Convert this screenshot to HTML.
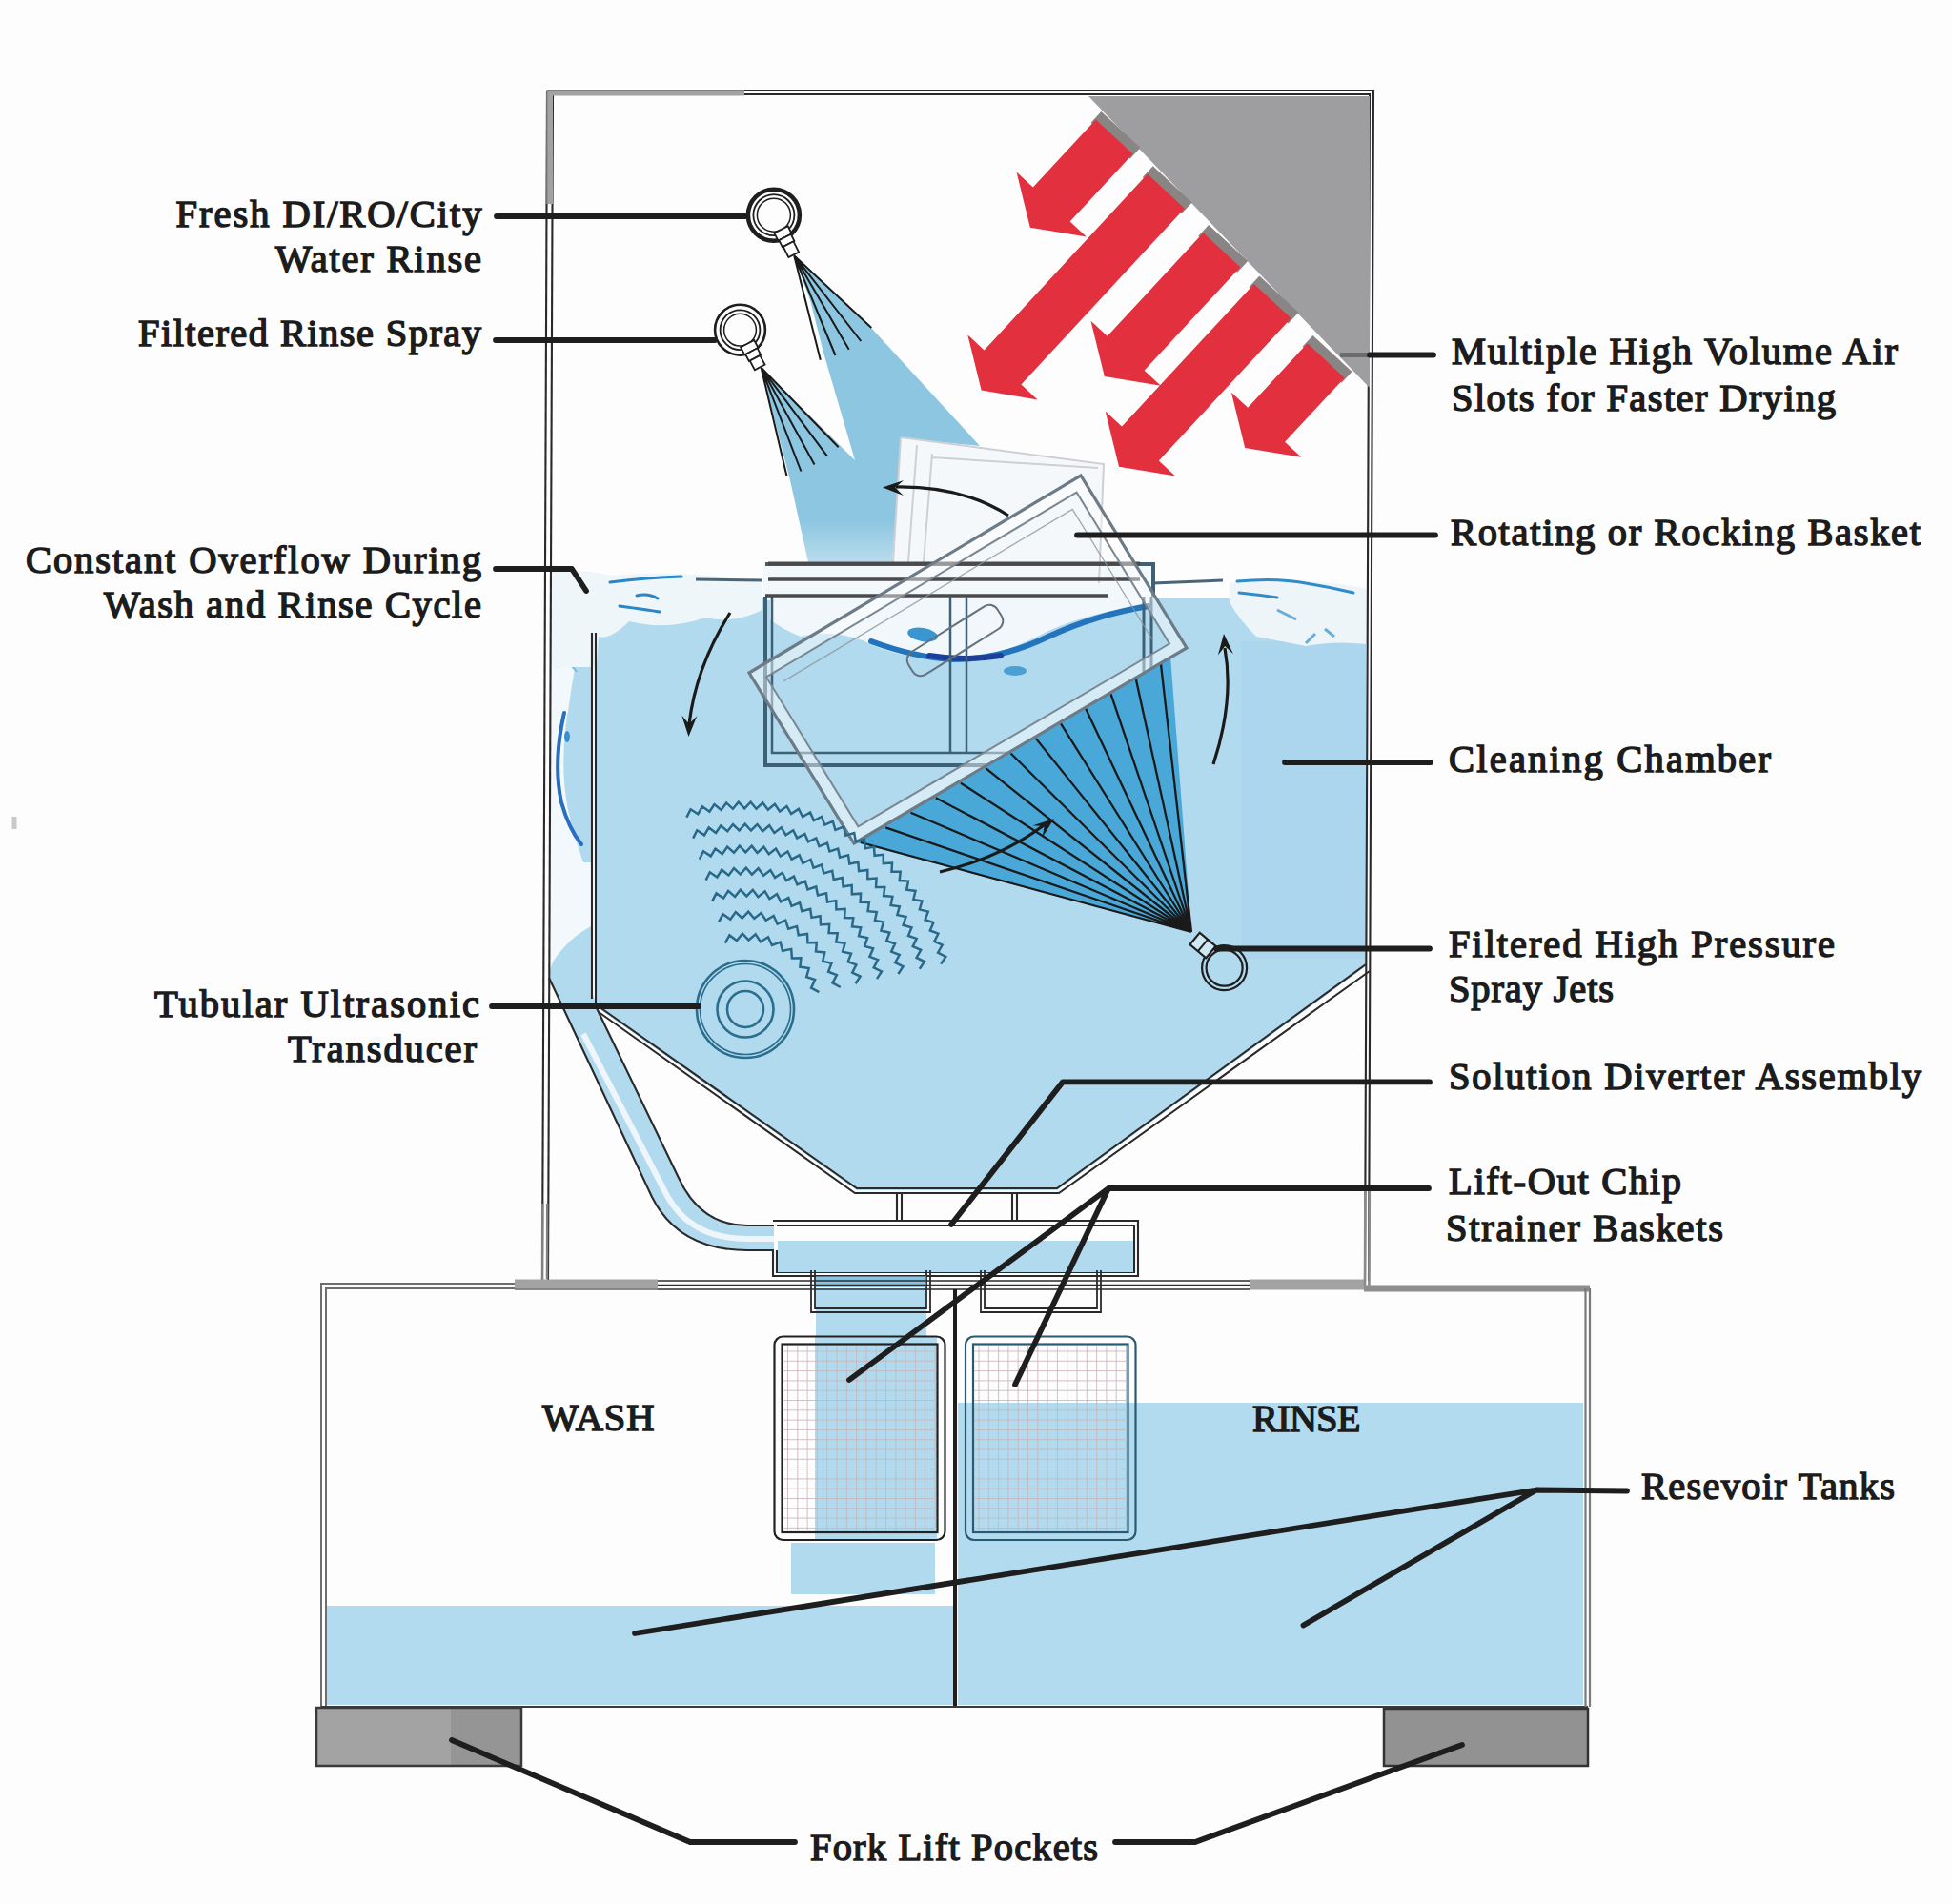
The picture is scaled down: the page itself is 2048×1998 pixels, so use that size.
<!DOCTYPE html>
<html><head><meta charset="utf-8">
<style>
html,body{margin:0;padding:0;background:#fdfdfd;}
svg{display:block;}
text{font-family:"Liberation Serif",serif;font-size:40.5px;fill:#1c1c1c;stroke:#1c1c1c;stroke-width:1.5px;}
</style></head>
<body>
<svg width="2048" height="1998" viewBox="0 0 2048 1998">
<rect x="0" y="0" width="2048" height="1998" fill="#fdfdfd"/>
<path d="M577,600 L620,600 L620,1050 L577,1030 Z" fill="#f2f8fb"/>
<path d="M620,655 L612,662 Q602,700 597,740 Q586,800 596,850 Q603,880 612,905 L620,905 Z" fill="#b2daee"/>
<path d="M620,972 Q602,982 592,994 Q580,1006 577,1018 L577,1030 L620,1050 Z" fill="#b2daee"/>
<path d="M576,1018 L621,1040 L628,1064 L576,1032 Z" fill="#b2daee"/>
<path d="M592,748 Q580,800 589,842 Q597,870 610,886" fill="none" stroke="#2a6fbf" stroke-width="4" stroke-linecap="round"/>
<ellipse cx="595" cy="773" rx="3" ry="6" fill="#3a8fd0"/>
<path d="M585,700 Q595,690 605,705 M590,640 Q600,660 612,650" fill="none" stroke="#7fb6da" stroke-width="2"/>
<path d="M576,1026 L684,1256 Q712,1312 784,1312 L812,1312 L812,1286 L784,1286 Q735,1286 712,1236 L626,1058 Z" fill="#b2daee"/>
<path d="M612,1085 L700,1255 Q725,1300 784,1300 L812,1300" fill="none" stroke="#eef6fb" stroke-width="6"/>
<path d="M625,628 L1433,628 L1433,1014 L1109,1249 L899,1249 L625,1056 Z" fill="#b2daee"/>
<rect x="1302" y="673" width="131" height="333" fill="#abd6ee"/>
<path d="M801,592 L1210,592 L1210,630 L801,630 Z" fill="#f3f8fb"/>
<path d="M577,600 Q610,596 640,604 Q700,598 760,606 L800,612 L800,640 Q770,655 740,648 Q700,662 660,652 Q640,672 628,668 L626,700 L577,700 Z" fill="#eef6fa"/>
<path d="M640,611 Q680,606 715,605 M650,636 Q680,640 692,642 M668,625 Q680,622 690,628" fill="none" stroke="#2a86c4" stroke-width="3" stroke-linecap="round"/>
<path d="M1290,612 Q1330,604 1370,610 Q1410,612 1434,618 L1434,676 Q1400,672 1370,678 Q1340,672 1318,668 Q1300,650 1290,632 Z" fill="#eef5f9"/>
<path d="M1298,610 Q1340,606 1370,612 Q1395,616 1420,622 M1300,622 Q1320,624 1340,627" fill="none" stroke="#2f8cc8" stroke-width="3" stroke-linecap="round"/>
<path d="M1340,640 L1360,650 M1390,660 L1400,668 M1370,675 L1380,665" fill="none" stroke="#6aaed6" stroke-width="3"/>
<path d="M730,608 L800,609 M1209,612 L1283,609" fill="none" stroke="#4a6478" stroke-width="3"/>
<path d="M808,628 L1205,628 L1205,636 Q1150,640 1100,662 Q1040,694 990,693 Q940,690 905,672 Q870,660 840,668 Q820,660 808,650 Z" fill="#f1f7fb"/>
<path d="M914,673 Q960,690 1000,692 Q1050,692 1100,668 Q1150,645 1205,636" fill="none" stroke="#2274bd" stroke-width="6" stroke-linecap="round"/>
<path d="M975,688 Q1010,694 1050,688" fill="none" stroke="#1d3f9a" stroke-width="6" stroke-linecap="round"/>
<ellipse cx="968" cy="666" rx="16" ry="7" fill="#3a95d0" transform="rotate(10 968 666)"/>
<ellipse cx="1065" cy="704" rx="12" ry="5" fill="#4a9fd4"/>
<defs><linearGradient id="sprayfade" x1="0" y1="0" x2="0" y2="1"><stop offset="0" stop-color="#8cc6e0"/><stop offset="0.86" stop-color="#8cc6e0"/><stop offset="1" stop-color="#b9dcec"/></linearGradient></defs>
<path d="M833,268 L914,344 L1028,468 L946,460 L936,590 L848,590 L829,504 L798.6,385.8 L897,483 L864,370 L850,315 Z" fill="url(#sprayfade)"/>
<path d="M945,459 L1158,487 L1153,612 L936,600 Z" fill="#f5f8fa"/>
<path d="M945,459 L1158,487 L1153,612 M945,459 L937,590 M962,467 L953,590 M978,476 L969,590 M978,480 L1152,491" fill="none" stroke="#cfcfd3" stroke-width="2"/>
<g fill="none" stroke="#3f6178" stroke-width="4"><path d="M803,626 L803,803 L1208,803"/><path d="M810,626 L810,790 L1200,790" stroke-width="2.5"/><path d="M803,592 L1210,592 L1210,626" /><path d="M806,591.5 L1196,591.5" stroke="#4a4a4c" stroke-width="4"/><path d="M806,608 L1196,608" stroke="#4a4a4c" stroke-width="3.5"/><path d="M803,625 L1163,625" stroke="#4a4a4c" stroke-width="3.5"/><path d="M997,626 L997,790 M1014,626 L1014,790" stroke-width="2.5"/><path d="M1208,626 L1208,803 M1200,626 L1200,790" stroke-width="3"/></g>
<path d="M1250,978 L898,884 L1228,688 Z" fill="#4aa8d9"/>
<path d="M1250,978 L903.0,884.0 M1250,978 L929.2,868.4 M1250,978 L955.5,852.8 M1250,978 L981.8,837.2 M1250,978 L1008.0,821.7 M1250,978 L1034.2,806.1 M1250,978 L1060.5,790.5 M1250,978 L1086.8,774.9 M1250,978 L1113.0,759.3 M1250,978 L1139.2,743.8 M1250,978 L1165.5,728.2 M1250,978 L1191.8,712.6 M1250,978 L1218.0,697.0" fill="none" stroke="#1a1a1a" stroke-width="2.3"/>
<path d="M786.0,706.0 1134.0,499.0 1245.0,680.0 896.0,885.0 Z M804.0,710.4 1129.6,516.7 1227.0,675.5 900.4,867.3 Z" fill="#ffffff" fill-opacity="0.45" fill-rule="evenodd"/>
<polygon points="786.0,706.0 1134.0,499.0 1245.0,680.0 896.0,885.0" fill="none" stroke="#6d7b86" stroke-width="3.2"/>
<polygon points="804.0,710.4 1129.6,516.7 1227.0,675.5 900.4,867.3" fill="none" stroke="#7a8790" stroke-width="2"/>
<path d="M822.0,714.9 L1125.2,534.5 L1209.0,671.0" fill="none" stroke="#8a969e" stroke-width="1.4" opacity="0.8"/>
<rect x="-55" y="-14" width="110" height="28" rx="10" transform="translate(1002,672) rotate(-32)" fill="none" stroke="#62727e" stroke-width="2"/>
<path d="M760.8,989.6 L765.4,981.4 L773.0,987.0 L779.0,979.7 L785.5,986.5 L792.7,980.3 L797.9,988.2 L806.0,983.3 L809.9,992.0 L818.7,988.6 L821.0,997.8 L830.2,995.9 L830.9,1005.4 L840.4,1005.2 L839.4,1014.6 L848.7,1016.0 L846.2,1025.1 L855.1,1028.1 L851.1,1036.6 L859.4,1041.1 M754.0,967.6 L758.5,959.3 L766.3,964.7 L771.8,957.1 L778.7,963.5 L785.2,956.7 L791.3,963.8 L798.6,958.0 L803.6,965.9 L811.7,961.0 L815.6,969.5 L824.2,965.7 L827.1,974.7 L836.1,972.0 L837.7,981.3 L847.0,979.9 L847.4,989.3 L856.8,989.1 L856.0,998.4 L865.3,999.4 L863.2,1008.6 L872.4,1010.9 L869.1,1019.7 L877.9,1023.1 L873.5,1031.4 L881.8,1036.0 M747.3,945.6 L751.5,937.4 L759.1,942.6 L764.1,934.9 L771.1,940.9 L776.9,933.7 L783.3,940.4 L789.8,933.8 L795.4,941.2 L802.6,935.3 L807.4,943.2 L815.1,938.1 L819.1,946.4 L827.3,942.1 L830.5,950.8 L839.1,947.3 L841.3,956.3 L850.2,953.8 L851.5,962.9 L860.6,961.3 L861.0,970.5 L870.2,969.8 L869.6,979.1 L878.8,979.3 L877.3,988.5 L886.5,989.7 L884.1,998.6 L893.0,1000.7 L889.7,1009.3 L898.4,1012.4 L894.2,1020.6 L902.6,1024.6 L897.6,1032.3 M740.6,923.6 L744.8,915.3 L752.4,920.5 L757.3,912.7 L764.5,918.5 L770.0,911.1 L776.7,917.5 L782.8,910.6 L788.9,917.6 L795.6,911.2 L801.1,918.7 L808.3,913.0 L813.1,920.9 L820.8,915.8 L824.9,924.1 L833.0,919.6 L836.4,928.3 L844.8,924.6 L847.4,933.4 L856.2,930.5 L858.0,939.5 L867.0,937.4 L868.0,946.5 L877.2,945.1 L877.4,954.4 L886.6,953.8 L886.1,963.0 L895.3,963.2 L894.0,972.3 L903.2,973.3 L901.0,982.3 L910.1,984.1 L907.2,992.9 L916.1,995.4 L912.4,1003.9 L921.1,1007.2 L916.7,1015.4 L925.0,1019.4 L920.0,1027.1 M733.9,901.6 L738.0,893.3 L745.7,898.4 L750.5,890.5 L757.8,896.2 L763.1,888.6 L770.0,894.8 L775.9,887.7 L782.3,894.4 L788.7,887.7 L794.5,894.9 L801.4,888.7 L806.7,896.3 L814.0,890.6 L818.8,898.6 L826.5,893.5 L830.6,901.7 L838.7,897.3 L842.2,905.8 L850.6,901.9 L853.5,910.7 L862.1,907.5 L864.3,916.5 L873.2,913.9 L874.7,923.0 L883.7,921.1 L884.6,930.3 L893.7,929.0 L893.9,938.3 L903.1,937.7 L902.6,946.9 L911.8,947.1 L910.6,956.2 L919.8,957.0 L917.9,966.1 L927.0,967.6 L924.4,976.5 L933.4,978.7 L930.2,987.3 L939.0,990.2 L935.1,998.6 L943.7,1002.0 L939.2,1010.1 L947.5,1014.2 L942.4,1022.0 M727.2,879.6 L731.3,871.3 L739.0,876.4 L743.7,868.4 L751.1,874.0 L756.3,866.3 L763.3,872.3 L769.0,865.0 L775.6,871.5 L781.7,864.6 L787.9,871.5 L794.5,865.0 L800.2,872.3 L807.2,866.2 L812.4,873.9 L819.8,868.3 L824.5,876.3 L832.2,871.2 L836.3,879.4 L844.4,874.9 L848.0,883.4 L856.3,879.4 L859.4,888.1 L868.0,884.6 L870.4,893.5 L879.2,890.6 L881.1,899.7 L890.0,897.4 L891.3,906.5 L900.4,904.8 L901.1,914.0 L910.3,912.9 L910.3,922.2 L919.6,921.6 L919.0,930.9 L928.3,931.0 L927.1,940.1 L936.4,940.8 L934.6,949.9 L943.8,951.2 L941.4,960.1 L950.5,962.0 L947.6,970.8 L956.5,973.3 L953.0,981.9 L961.7,984.9 L957.7,993.2 L966.2,996.9 L961.6,1004.9 L969.9,1009.1 L964.8,1016.8 M720.4,857.6 L724.6,849.3 L732.3,854.3 L736.9,846.3 L744.4,851.8 L749.5,844.0 L756.6,849.9 L762.1,842.5 L768.9,848.8 L774.8,841.7 L781.2,848.4 L787.6,841.7 L793.5,848.7 L800.3,842.4 L805.8,849.8 L812.9,843.8 L818.1,851.5 L825.5,846.0 L830.1,854.0 L837.9,848.9 L842.1,857.1 L850.1,852.5 L853.8,861.0 L862.1,856.9 L865.3,865.6 L873.8,861.9 L876.4,870.8 L885.1,867.6 L887.3,876.6 L896.2,874.0 L897.8,883.1 L906.8,881.0 L907.9,890.2 L917.0,888.6 L917.6,897.8 L926.8,896.8 L926.8,906.1 L936.0,905.6 L935.5,914.8 L944.7,914.8 L943.7,924.0 L952.9,924.6 L951.3,933.7 L960.5,934.9 L958.3,943.9 L967.4,945.5 L964.8,954.4 L973.8,956.6 L970.6,965.3 L979.4,968.0 L975.8,976.5 L984.4,979.7 L980.3,988.0 L988.7,991.7 L984.1,999.7 L992.3,1003.9 L987.2,1011.6" fill="none" stroke="#28698a" stroke-width="2.5" stroke-linejoin="miter"/>
<g fill="none" stroke="#2a6d8c" stroke-width="2.6"><circle cx="782" cy="1059" r="51"/><circle cx="782" cy="1059" r="47.5" stroke-width="1.6"/><circle cx="782" cy="1059" r="29.5"/><circle cx="782" cy="1059" r="19"/></g>
<path d="M766,643 Q730,700 723,760" fill="none" stroke="#1a1a1a" stroke-width="3.2"/><polygon points="722.5,773.0 715.3,750.7 723.0,759.8 731.3,751.3" fill="#1a1a1a"/>
<path d="M1058,541 Q1010,510 940,511" fill="none" stroke="#1a1a1a" stroke-width="3.2"/><polygon points="926.0,511.5 948.1,503.9 939.2,511.7 947.9,519.9" fill="#1a1a1a"/>
<path d="M1273,802 Q1295,735 1285,680" fill="none" stroke="#1a1a1a" stroke-width="3.2"/><polygon points="1284.0,665.0 1293.9,686.2 1285.2,678.1 1277.9,687.6" fill="#1a1a1a"/>
<path d="M986,915 Q1050,900 1095,866" fill="none" stroke="#1a1a1a" stroke-width="3.2"/><polygon points="1106.0,859.0 1093.6,878.8 1095.6,867.1 1083.7,866.2" fill="#1a1a1a"/>
<g fill="none" stroke="#2a2a2a" stroke-width="2.1"><path d="M574,95 L1441,95 L1436,1344"/><path d="M580,99 L1437,99 L1432,1344"/><path d="M574,95 L569,1344"/><path d="M580,99 L575,1344"/><path d="M621,664 L621,1048 M625,664 L625,1052"/><path d="M625,1054 L899,1247 L1109,1247 L1433,1012"/><path d="M628,1062 L897,1252 L1111,1252 L1437,1019"/><path d="M941,1252 L941,1281 M946,1252 L946,1281 M1062,1252 L1062,1281 M1067,1252 L1067,1281"/><path d="M576,1026 L684,1256 Q712,1312 784,1312 L812,1312"/><path d="M626,1058 L712,1236 Q735,1286 784,1286 L812,1286"/><path d="M811,1281 L1194,1281 L1194,1339 L811,1339 L811,1312"/><path d="M815,1286 L1190,1286 L1190,1335 L815,1335 L815,1312"/></g>
<path d="M577,214 L577,97.5 L781,97.5" stroke="#a2a2a2" stroke-width="6" fill="none"/>
<path d="M574,214 L574,95 L781,95" stroke="#8a8a8a" stroke-width="1.5" fill="none"/>
<path d="M569.2,1263 L569,1346 M574.2,1263 L574,1342" stroke="#808080" stroke-width="2.4" fill="none"/>
<rect x="816" y="1302" width="373" height="33" fill="#b2daee"/>
<rect x="342" y="1685" width="659" height="104" fill="#b3dbef"/>
<rect x="1005" y="1472" width="656" height="317" fill="#b3dbef"/>
<rect x="856" y="1352" width="116" height="52" fill="#b2daee"/>
<rect x="855" y="1402" width="128" height="214" fill="#b2daee"/>
<rect x="830" y="1619" width="151" height="54" fill="#b2daee"/>
<g fill="none" stroke="#2a2a2a" stroke-width="1.8"><path d="M851,1333 L851,1377 L976,1377 L976,1333 M855,1333 L855,1373 L972,1373 L972,1333"/><path d="M1029,1333 L1029,1377 L1155,1377 L1155,1333 M1033,1333 L1033,1373 L1151,1373 L1151,1333"/></g>
<rect x="856" y="1339" width="116" height="12" fill="#5aa9d6" opacity="0.7"/>
<rect x="812.5" y="1402.5" width="179.0" height="213.5" rx="9" fill="none" stroke="#222" stroke-width="2.2"/><rect x="820.5" y="1410.5" width="163.0" height="197.5" fill="none" stroke="#222" stroke-width="2.2"/><path d="M826.5,1412 L826.5,1606 M836.8,1412 L836.8,1606 M847.1,1412 L847.1,1606 M857.4,1412 L857.4,1606 M867.7,1412 L867.7,1606 M878.0,1412 L878.0,1606 M888.3,1412 L888.3,1606 M898.6,1412 L898.6,1606 M908.9,1412 L908.9,1606 M919.2,1412 L919.2,1606 M929.5,1412 L929.5,1606 M939.8,1412 L939.8,1606 M950.1,1412 L950.1,1606 M960.4,1412 L960.4,1606 M970.7,1412 L970.7,1606 M981.0,1412 L981.0,1606 M821.5,1418.0 L982.5,1418.0 M821.5,1428.3 L982.5,1428.3 M821.5,1438.6 L982.5,1438.6 M821.5,1448.9 L982.5,1448.9 M821.5,1459.2 L982.5,1459.2 M821.5,1469.5 L982.5,1469.5 M821.5,1479.8 L982.5,1479.8 M821.5,1490.1 L982.5,1490.1 M821.5,1500.4 L982.5,1500.4 M821.5,1510.7 L982.5,1510.7 M821.5,1521.0 L982.5,1521.0 M821.5,1531.3 L982.5,1531.3 M821.5,1541.6 L982.5,1541.6 M821.5,1551.9 L982.5,1551.9 M821.5,1562.2 L982.5,1562.2 M821.5,1572.5 L982.5,1572.5 M821.5,1582.8 L982.5,1582.8 M821.5,1593.1 L982.5,1593.1 M821.5,1603.4 L982.5,1603.4" fill="none" stroke="#c9b5ba" stroke-width="1" opacity="0.85"/>
<rect x="1013" y="1402.5" width="178.5" height="213.5" rx="9" fill="none" stroke="#2a5a72" stroke-width="2.2"/><rect x="1021" y="1410.5" width="162.5" height="197.5" fill="none" stroke="#2a5a72" stroke-width="2.2"/><path d="M1027.0,1412 L1027.0,1606 M1037.3,1412 L1037.3,1606 M1047.6,1412 L1047.6,1606 M1057.9,1412 L1057.9,1606 M1068.2,1412 L1068.2,1606 M1078.5,1412 L1078.5,1606 M1088.8,1412 L1088.8,1606 M1099.1,1412 L1099.1,1606 M1109.4,1412 L1109.4,1606 M1119.7,1412 L1119.7,1606 M1130.0,1412 L1130.0,1606 M1140.3,1412 L1140.3,1606 M1150.6,1412 L1150.6,1606 M1160.9,1412 L1160.9,1606 M1171.2,1412 L1171.2,1606 M1181.5,1412 L1181.5,1606 M1022,1418.0 L1182.5,1418.0 M1022,1428.3 L1182.5,1428.3 M1022,1438.6 L1182.5,1438.6 M1022,1448.9 L1182.5,1448.9 M1022,1459.2 L1182.5,1459.2 M1022,1469.5 L1182.5,1469.5 M1022,1479.8 L1182.5,1479.8 M1022,1490.1 L1182.5,1490.1 M1022,1500.4 L1182.5,1500.4 M1022,1510.7 L1182.5,1510.7 M1022,1521.0 L1182.5,1521.0 M1022,1531.3 L1182.5,1531.3 M1022,1541.6 L1182.5,1541.6 M1022,1551.9 L1182.5,1551.9 M1022,1562.2 L1182.5,1562.2 M1022,1572.5 L1182.5,1572.5 M1022,1582.8 L1182.5,1582.8 M1022,1593.1 L1182.5,1593.1 M1022,1603.4 L1182.5,1603.4" fill="none" stroke="#c9b5ba" stroke-width="1" opacity="0.85"/>
<g fill="none" stroke="#6e6e6e" stroke-width="2"><path d="M337,1791 L337,1347 L540,1347"/><path d="M342,1791 L342,1352 L540,1352"/></g>
<path d="M337,1791 L1666,1791" stroke="#3a3a3a" stroke-width="1.8"/>
<path d="M690,1344 L1311,1344 M690,1348.5 L1311,1348.5 M690,1353 L1311,1353" stroke="#2e2e2e" stroke-width="1.6"/>
<path d="M540,1348 L690,1348" stroke="#a3a3a3" stroke-width="11"/>
<path d="M540,1353 L690,1353" stroke="#777" stroke-width="1.5"/>
<path d="M1311,1348 L1431,1348" stroke="#a3a3a3" stroke-width="11"/>
<path d="M1432.4,1250 L1432,1350 M1436.8,1250 L1436.4,1350" stroke="#8a8a8a" stroke-width="2.6"/>
<path d="M1431,1352 L1668,1352" stroke="#8e8e8e" stroke-width="7"/>
<path d="M1663.5,1352 L1663.5,1791 M1668,1352 L1668,1791" stroke="#7a7a7a" stroke-width="2.2"/>
<line x1="1002" y1="1353" x2="1002" y2="1790" stroke="#1e1e1e" stroke-width="4"/>
<rect x="332" y="1792" width="142" height="61" fill="#a3a3a3"/>
<rect x="473" y="1792" width="74" height="61" fill="#959595"/>
<path d="M332,1792 L547,1792 L547,1853 L332,1853 Z" fill="none" stroke="#3a3a3a" stroke-width="2.5"/>
<rect x="1452" y="1793" width="214" height="60" fill="#929292" stroke="#333" stroke-width="2.5"/>
<rect x="12.5" y="857" width="5" height="13" fill="#c9c9c9"/>
<polygon points="1142,101 1437,101 1437,407" fill="#9e9ea0"/>
<polygon points="1185.6,166.8 1196.5,155.1 1155.4,117.0 1144.6,128.7" fill="#8a8585"/>
<polygon points="1239.8,224.1 1250.7,212.4 1209.7,174.3 1198.8,186.0" fill="#8a8585"/>
<polygon points="1298.3,285.7 1309.2,274.0 1268.1,235.9 1257.2,247.7" fill="#8a8585"/>
<polygon points="1351.6,339.4 1362.5,327.7 1321.4,289.6 1310.5,301.3" fill="#8a8585"/>
<polygon points="1407.6,401.8 1418.5,390.1 1377.4,352.0 1366.6,363.7" fill="#8a8585"/>
<polygon points="1080.8,238.7 1139.9,248.5 1122.6,232.5 1188.6,161.4 1149.7,125.4 1083.8,196.5 1066.5,180.5" fill="#e3303e"/>
<polygon points="1029.6,409.6 1088.7,419.4 1071.4,403.4 1242.8,218.7 1204.0,182.6 1032.6,367.4 1015.3,351.4" fill="#e3303e"/>
<polygon points="1158.8,395.0 1217.9,404.8 1200.6,388.8 1301.3,280.3 1262.4,244.3 1161.8,352.8 1144.5,336.8" fill="#e3303e"/>
<polygon points="1174.0,489.7 1233.1,499.5 1215.8,483.5 1354.6,334.0 1315.7,297.9 1177.0,447.5 1159.7,431.5" fill="#e3303e"/>
<polygon points="1306.2,470.0 1365.3,479.8 1348.0,463.8 1410.6,396.4 1371.7,360.3 1309.2,427.8 1291.9,411.8" fill="#e3303e"/>
<path d="M1406,372.5 L1437,372.5" stroke="#6c6a6c" stroke-width="5"/>
<g fill="none" stroke="#1e1e1e"><circle cx="811.9" cy="225.7" r="27" stroke-width="4.5"/><circle cx="811.9" cy="225.7" r="21.5" stroke-width="1.8"/><circle cx="811.9" cy="225.7" r="17.5" stroke-width="1.5"/><g transform="translate(811.9,225.7) rotate(63.4)" fill="#fff" stroke-width="1.8"><rect x="17" y="-8" width="9" height="16"/><rect x="26" y="-7" width="8" height="14"/><rect x="34" y="-6" width="12.5" height="12"/></g></g>
<g fill="none" stroke="#1e1e1e"><circle cx="776.5" cy="346.2" r="26.4" stroke-width="2.6"/><circle cx="776.5" cy="346.2" r="20.9" stroke-width="1.8"/><circle cx="776.5" cy="346.2" r="16.9" stroke-width="1.5"/><g transform="translate(776.5,346.2) rotate(62.2)" fill="#fff" stroke-width="1.8"><rect x="16.4" y="-8" width="9" height="16"/><rect x="25.4" y="-7" width="8" height="14"/><rect x="33.4" y="-6" width="11.0" height="12"/></g></g>
<g fill="none" stroke="#1e1e1e" stroke-width="2.2"><circle cx="1284.6" cy="1015.7" r="23.5"/><circle cx="1284.6" cy="1015.7" r="19"/></g>
<g transform="translate(1262,992) rotate(40)"><rect x="-11" y="-8" width="22" height="16" fill="#cfe6f3" stroke="#1e1e1e" stroke-width="2.2"/><line x1="0" y1="-8" x2="0" y2="8" stroke="#1e1e1e" stroke-width="2"/></g>
<path d="M833.2,268.2 L860.8,377.7 M833.2,268.2 L876.5,373 M833.2,268.2 L890.7,366.7 M833.2,268.2 L903.3,358 M833.2,268.2 L914.3,343.9" fill="none" stroke="#1a1a1a" stroke-width="2"/>
<path d="M798.6,385.8 L825.4,499.2 M798.6,385.8 L840.4,494.5 M798.6,385.8 L854.5,487.4 M798.6,385.8 L867.9,478.7 M798.6,385.8 L879.7,469.3" fill="none" stroke="#1a1a1a" stroke-width="2"/>

<g id="labels">
  <text x="505.5" y="238" text-anchor="end" textLength="321" lengthAdjust="spacing">Fresh DI/RO/City</text>
  <text x="505" y="284.5" text-anchor="end" textLength="216" lengthAdjust="spacing">Water Rinse</text>
  <text x="505" y="362.5" text-anchor="end" textLength="360" lengthAdjust="spacing">Filtered Rinse Spray</text>
  <text x="505" y="601" text-anchor="end" textLength="478" lengthAdjust="spacing">Constant Overflow During</text>
  <text x="505" y="648" text-anchor="end" textLength="396" lengthAdjust="spacing">Wash and Rinse Cycle</text>
  <text x="503" y="1067" text-anchor="end" textLength="341" lengthAdjust="spacing">Tubular Ultrasonic</text>
  <text x="500" y="1114" text-anchor="end" textLength="198" lengthAdjust="spacing">Transducer</text>
  <text x="1523" y="382" textLength="468" lengthAdjust="spacing">Multiple High Volume Air</text>
  <text x="1523" y="430.5" textLength="403" lengthAdjust="spacing">Slots for Faster Drying</text>
  <text x="1522" y="572" textLength="493" lengthAdjust="spacing">Rotating or Rocking Basket</text>
  <text x="1520" y="810" textLength="338" lengthAdjust="spacing">Cleaning Chamber</text>
  <text x="1520" y="1004" textLength="405" lengthAdjust="spacing">Filtered High Pressure</text>
  <text x="1520" y="1051" textLength="173" lengthAdjust="spacing">Spray Jets</text>
  <text x="1520" y="1143" textLength="496" lengthAdjust="spacing">Solution Diverter Assembly</text>
  <text x="1520" y="1253" textLength="244" lengthAdjust="spacing">Lift-Out Chip</text>
  <text x="1517" y="1302" textLength="291" lengthAdjust="spacing">Strainer Baskets</text>
  <text x="1722" y="1573" textLength="266" lengthAdjust="spacing">Resevoir Tanks</text>
  <text x="850" y="1952" textLength="302" lengthAdjust="spacing">Fork Lift Pockets</text>
  <text x="569" y="1500.5" textLength="117.5" lengthAdjust="spacing" style="font-size:40.5px">WASH</text>
  <text x="1314" y="1502" textLength="113.5" lengthAdjust="spacing" style="font-size:40px">RINSE</text>
</g>
<g id="leaders" fill="none" stroke="#1e1e1e" stroke-width="5.8" stroke-linecap="round" stroke-linejoin="round">
  <path d="M521,227 L782,227"/>
  <path d="M520,357 L750,357"/>
  <path d="M520,597 L600,597 L615,620"/>
  <path d="M516,1056 L733,1056"/>
  <path d="M1437,372.5 L1504,372.5"/>
  <path d="M1130,561.5 L1506,561.5"/>
  <path d="M1348,800 L1501,800"/>
  <path d="M1276,995.5 L1500,995.5"/>
  <path d="M1500,1135.4 L1115,1135.4 L998,1285"/>
  <path d="M1499,1247 L1163,1247 L891,1448 M1163,1247 L1065,1453"/>
  <path d="M1707,1564.5 L1612,1563.5 L666,1714 M1612,1563.5 L1367.5,1705.5"/>
  <path d="M834,1933 L724,1933 L474,1826"/>
  <path d="M1170,1933 L1254,1933 L1534,1831"/>
</g>

</svg>
</body></html>
